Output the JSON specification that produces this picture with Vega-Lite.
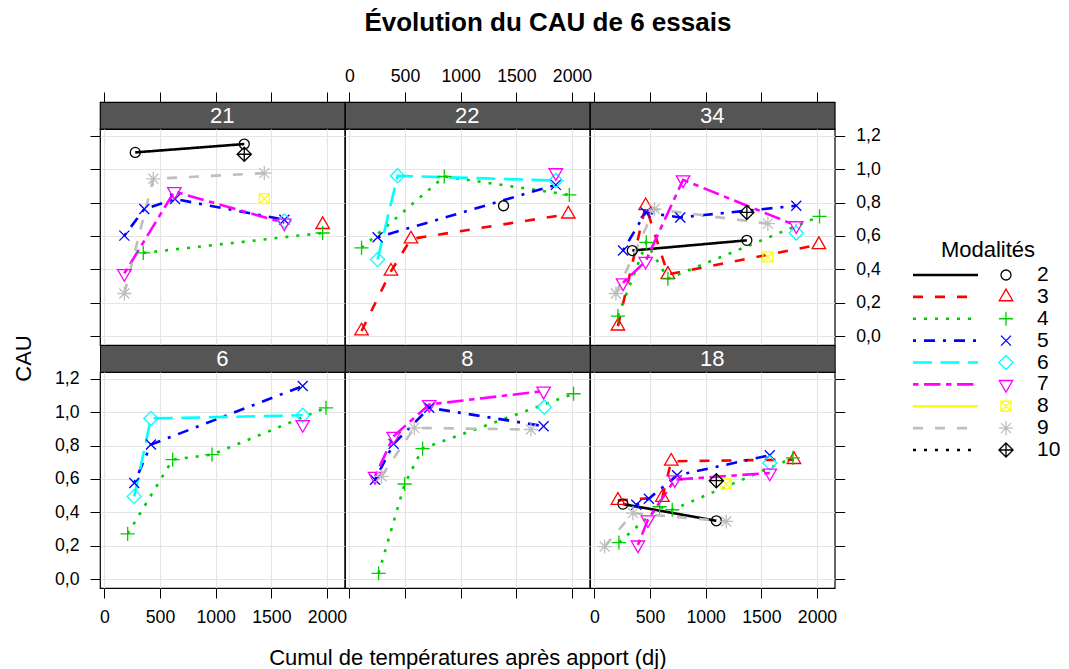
{
  "$schema": "https://vega.github.io/schema/vega-lite/v6.json",
  "autosize": {"type": "pad"},
  "padding": {"left": 11, "top": 9, "right": 5, "bottom": 5},
  "background": "white",
  "title": {"text": "Évolution du CAU de 6 essais", "fontSize": 26, "fontWeight": "bold", "font": "Liberation Sans", "color": "black", "anchor": "start", "frame": "bounds", "offset": 4.6, "dx": 353, "baseline": "bottom"},
  "config": {
    "font": "Liberation Sans",
    "view": {"stroke": "black", "strokeWidth": 1.2},
    "axis": {"grid": false, "domain": false, "tickColor": "black", "tickSize": 10, "tickWidth": 1, "labelFont": "Liberation Sans", "labelFontSize": 17.7, "labelColor": "black", "labelPadding": 11, "labelFlush": false, "labelOverlap": false, "titleFont": "Liberation Sans", "titleFontSize": 22, "titleFontWeight": "normal", "titleColor": "black", "gridColor": "#E5E5E5", "gridWidth": 1.2}
  },
  "datasets": {
    "pts": [
      {"panel": "21", "mod": "2", "x": 278, "y": 1.10},
      {"panel": "21", "mod": "2", "x": 1257, "y": 1.15},
      {"panel": "21", "mod": "3", "x": 1961, "y": 0.668},
      {"panel": "21", "mod": "4", "x": 350, "y": 0.499},
      {"panel": "21", "mod": "4", "x": 1961, "y": 0.618},
      {"panel": "21", "mod": "5", "x": 180, "y": 0.602},
      {"panel": "21", "mod": "5", "x": 359, "y": 0.761},
      {"panel": "21", "mod": "5", "x": 635, "y": 0.821},
      {"panel": "21", "mod": "5", "x": 1617, "y": 0.697},
      {"panel": "21", "mod": "6", "x": 1617, "y": 0.69},
      {"panel": "21", "mod": "7", "x": 180, "y": 0.376},
      {"panel": "21", "mod": "7", "x": 629, "y": 0.866},
      {"panel": "21", "mod": "7", "x": 1617, "y": 0.678},
      {"panel": "21", "mod": "8", "x": 1437, "y": 0.823},
      {"panel": "21", "mod": "9", "x": 180, "y": 0.256},
      {"panel": "21", "mod": "9", "x": 440, "y": 0.942},
      {"panel": "21", "mod": "9", "x": 1437, "y": 0.976},
      {"panel": "21", "mod": "10", "x": 1257, "y": 1.089},

      {"panel": "22", "mod": "2", "x": 1385, "y": 0.781},
      {"panel": "22", "mod": "3", "x": 110, "y": 0.032},
      {"panel": "22", "mod": "3", "x": 374, "y": 0.389},
      {"panel": "22", "mod": "3", "x": 554, "y": 0.582},
      {"panel": "22", "mod": "3", "x": 1967, "y": 0.731},
      {"panel": "22", "mod": "4", "x": 110, "y": 0.529},
      {"panel": "22", "mod": "4", "x": 853, "y": 0.956},
      {"panel": "22", "mod": "4", "x": 1976, "y": 0.846},
      {"panel": "22", "mod": "5", "x": 254, "y": 0.592},
      {"panel": "22", "mod": "5", "x": 1855, "y": 0.906},
      {"panel": "22", "mod": "6", "x": 254, "y": 0.459},
      {"panel": "22", "mod": "6", "x": 434, "y": 0.960},
      {"panel": "22", "mod": "6", "x": 1855, "y": 0.932},
      {"panel": "22", "mod": "7", "x": 1855, "y": 0.979},

      {"panel": "34", "mod": "2", "x": 341, "y": 0.513},
      {"panel": "34", "mod": "2", "x": 1370, "y": 0.574},
      {"panel": "34", "mod": "3", "x": 212, "y": 0.061},
      {"panel": "34", "mod": "3", "x": 461, "y": 0.781},
      {"panel": "34", "mod": "3", "x": 661, "y": 0.370},
      {"panel": "34", "mod": "3", "x": 2017, "y": 0.548},
      {"panel": "34", "mod": "4", "x": 212, "y": 0.121},
      {"panel": "34", "mod": "4", "x": 467, "y": 0.562},
      {"panel": "34", "mod": "4", "x": 661, "y": 0.344},
      {"panel": "34", "mod": "4", "x": 2023, "y": 0.717},
      {"panel": "34", "mod": "5", "x": 258, "y": 0.513},
      {"panel": "34", "mod": "5", "x": 461, "y": 0.741},
      {"panel": "34", "mod": "5", "x": 772, "y": 0.711},
      {"panel": "34", "mod": "5", "x": 1814, "y": 0.781},
      {"panel": "34", "mod": "6", "x": 1814, "y": 0.618},
      {"panel": "34", "mod": "7", "x": 258, "y": 0.320},
      {"panel": "34", "mod": "7", "x": 461, "y": 0.449},
      {"panel": "34", "mod": "7", "x": 797, "y": 0.936},
      {"panel": "34", "mod": "7", "x": 1814, "y": 0.662},
      {"panel": "34", "mod": "8", "x": 1559, "y": 0.475},
      {"panel": "34", "mod": "9", "x": 194, "y": 0.256},
      {"panel": "34", "mod": "9", "x": 541, "y": 0.761},
      {"panel": "34", "mod": "9", "x": 1559, "y": 0.674},
      {"panel": "34", "mod": "10", "x": 1370, "y": 0.741},

      {"panel": "6", "mod": "4", "x": 210, "y": 0.272},
      {"panel": "6", "mod": "4", "x": 614, "y": 0.716},
      {"panel": "6", "mod": "4", "x": 967, "y": 0.746},
      {"panel": "6", "mod": "4", "x": 1991, "y": 1.026},
      {"panel": "6", "mod": "5", "x": 269, "y": 0.576},
      {"panel": "6", "mod": "5", "x": 419, "y": 0.806},
      {"panel": "6", "mod": "5", "x": 1782, "y": 1.156},
      {"panel": "6", "mod": "6", "x": 269, "y": 0.496},
      {"panel": "6", "mod": "6", "x": 419, "y": 0.962},
      {"panel": "6", "mod": "6", "x": 1782, "y": 0.981},
      {"panel": "6", "mod": "7", "x": 1782, "y": 0.926},

      {"panel": "8", "mod": "4", "x": 263, "y": 0.036},
      {"panel": "8", "mod": "4", "x": 497, "y": 0.570},
      {"panel": "8", "mod": "4", "x": 658, "y": 0.782},
      {"panel": "8", "mod": "4", "x": 2014, "y": 1.110},
      {"panel": "8", "mod": "5", "x": 231, "y": 0.596},
      {"panel": "8", "mod": "5", "x": 398, "y": 0.810},
      {"panel": "8", "mod": "5", "x": 718, "y": 1.026},
      {"panel": "8", "mod": "5", "x": 1745, "y": 0.916},
      {"panel": "8", "mod": "6", "x": 1751, "y": 1.030},
      {"panel": "8", "mod": "7", "x": 231, "y": 0.616},
      {"panel": "8", "mod": "7", "x": 398, "y": 0.856},
      {"panel": "8", "mod": "7", "x": 718, "y": 1.046},
      {"panel": "8", "mod": "7", "x": 1745, "y": 1.126},
      {"panel": "8", "mod": "9", "x": 289, "y": 0.616},
      {"panel": "8", "mod": "9", "x": 584, "y": 0.906},
      {"panel": "8", "mod": "9", "x": 1631, "y": 0.896},

      {"panel": "18", "mod": "2", "x": 257, "y": 0.450},
      {"panel": "18", "mod": "2", "x": 1096, "y": 0.350},
      {"panel": "18", "mod": "3", "x": 212, "y": 0.472},
      {"panel": "18", "mod": "3", "x": 611, "y": 0.490},
      {"panel": "18", "mod": "3", "x": 691, "y": 0.706},
      {"panel": "18", "mod": "3", "x": 1793, "y": 0.716},
      {"panel": "18", "mod": "4", "x": 221, "y": 0.220},
      {"panel": "18", "mod": "4", "x": 587, "y": 0.434},
      {"panel": "18", "mod": "4", "x": 700, "y": 0.416},
      {"panel": "18", "mod": "4", "x": 1784, "y": 0.726},
      {"panel": "18", "mod": "5", "x": 377, "y": 0.446},
      {"panel": "18", "mod": "5", "x": 490, "y": 0.482},
      {"panel": "18", "mod": "5", "x": 744, "y": 0.622},
      {"panel": "18", "mod": "5", "x": 1576, "y": 0.742},
      {"panel": "18", "mod": "6", "x": 1576, "y": 0.696},
      {"panel": "18", "mod": "7", "x": 392, "y": 0.206},
      {"panel": "18", "mod": "7", "x": 481, "y": 0.356},
      {"panel": "18", "mod": "7", "x": 723, "y": 0.596},
      {"panel": "18", "mod": "7", "x": 1576, "y": 0.636},
      {"panel": "18", "mod": "8", "x": 1185, "y": 0.570},
      {"panel": "18", "mod": "9", "x": 93, "y": 0.196},
      {"panel": "18", "mod": "9", "x": 347, "y": 0.396},
      {"panel": "18", "mod": "9", "x": 1185, "y": 0.346},
      {"panel": "18", "mod": "10", "x": 1096, "y": 0.590}
    ],
    "leg": [
      {"mod": "2", "n": 2}, {"mod": "3", "n": 3}, {"mod": "4", "n": 4}, {"mod": "5", "n": 5}, {"mod": "6", "n": 6}, {"mod": "7", "n": 7}, {"mod": "8", "n": 8}, {"mod": "9", "n": 9}, {"mod": "10", "n": 10}
    ]
  },
  "spacing": 30,
  "hconcat": [
    {
      "columns": 3,
      "spacing": 0,
      "bounds": "flush",
      "concat": [
        {
          "width": 244.7, "height": 27, "view": {"fill": "#555555", "stroke": "black"},
          "layer": [
            {"data": {"name": "pts"}, "transform": [{"filter": "datum.panel === '21'"}], "mark": {"type": "point", "opacity": 0}, "encoding": {"x": {"field": "x", "type": "quantitative", "scale": {"domain": [-38.6, 2159], "nice": false, "zero": false}, "axis": {"orient": "top", "values": [0, 500, 1000, 1500, 2000], "labels": false, "title": null}}}},
            {"data": {"values": [{"p": "21"}]}, "mark": {"type": "text", "color": "white", "fontSize": 22, "baseline": "middle", "align": "center"}, "encoding": {"text": {"field": "p"}}}
          ]
        },
        {
          "width": 244.7, "height": 27, "view": {"fill": "#555555", "stroke": "black"},
          "layer": [
            {"data": {"name": "pts"}, "transform": [{"filter": "datum.panel === '22'"}], "mark": {"type": "point", "opacity": 0}, "encoding": {"x": {"field": "x", "type": "quantitative", "scale": {"domain": [-38.6, 2159], "nice": false, "zero": false}, "axis": {"orient": "top", "values": [0, 500, 1000, 1500, 2000], "format": "d", "labelPadding": 7, "title": null}}}},
            {"data": {"values": [{"p": "22"}]}, "mark": {"type": "text", "color": "white", "fontSize": 22, "baseline": "middle", "align": "center"}, "encoding": {"text": {"field": "p"}}}
          ]
        },
        {
          "width": 244.7, "height": 27, "view": {"fill": "#555555", "stroke": "black"},
          "layer": [
            {"data": {"name": "pts"}, "transform": [{"filter": "datum.panel === '34'"}], "mark": {"type": "point", "opacity": 0}, "encoding": {"x": {"field": "x", "type": "quantitative", "scale": {"domain": [-38.6, 2159], "nice": false, "zero": false}, "axis": {"orient": "top", "values": [0, 500, 1000, 1500, 2000], "labels": false, "title": null}}}},
            {"data": {"values": [{"p": "34"}]}, "mark": {"type": "text", "color": "white", "fontSize": 22, "baseline": "middle", "align": "center"}, "encoding": {"text": {"field": "p"}}}
          ]
        },
        {
          "width": 244.7, "height": 216,
          "data": {"name": "pts"},
          "transform": [{"filter": "datum.panel === '21'"}],
          "resolve": {"axis": {"x": "independent", "y": "independent"}},
          "layer": [
            {"mark": {"type": "line", "strokeWidth": 2.6},
             "encoding": {
               "x": {"field": "x", "type": "quantitative", "scale": {"domain": [-38.6, 2159], "nice": false, "zero": false}, "axis": {"orient": "bottom", "values": [0, 500, 1000, 1500, 2000], "grid": true, "ticks": false, "labels": false, "title": null}},
               "y": {"field": "y", "type": "quantitative", "scale": {"domain": [-0.052, 1.24], "nice": false, "zero": false}, "axis": {"orient": "left", "values": [0, 0.2, 0.4, 0.6, 0.8, 1, 1.2], "grid": true, "ticks": false, "labels": false, "title": null}},
               "color": {"field": "mod", "type": "nominal", "scale": {"domain": ["2","3","4","5","6","7","8","9","10"], "range": ["#000000","#FF0000","#00CD00","#0000FF","#00FFFF","#FF00FF","#FFFF00","#BEBEBE","#000000"]}, "legend": null},
               "strokeDash": {"field": "mod", "type": "nominal", "scale": {"domain": ["2","3","4","5","6","7","8","9","10"], "range": [[1,0],[10,12],[3,8],[3,8,11,8],[19,8.5],[5.5,5.5,16.5,5.5],[1,0],[10,12],[3,8]]}, "legend": null}
             }},
            {"mark": {"type": "point", "filled": false, "size": 100, "strokeWidth": 1.3, "opacity": 1},
             "encoding": {
               "x": {"field": "x", "type": "quantitative", "scale": {"domain": [-38.6, 2159], "nice": false, "zero": false}, "axis": null},
               "y": {"field": "y", "type": "quantitative", "scale": {"domain": [-0.052, 1.24], "nice": false, "zero": false}, "axis": {"orient": "left", "values": [0, 0.2, 0.4, 0.6, 0.8, 1, 1.2], "labels": false, "title": null}},
               "color": {"field": "mod", "type": "nominal", "scale": {"domain": ["2","3","4","5","6","7","8","9","10"], "range": ["#000000","#FF0000","#00CD00","#0000FF","#00FFFF","#FF00FF","#FFFF00","#BEBEBE","#000000"]}, "legend": null},
               "shape": {"field": "mod", "type": "nominal", "scale": {"domain": ["2","3","4","5","6","7","8","9","10"], "range": ["circle","M0,-1.555L1.347,0.778L-1.347,0.778Z","M-1.414,0L1.414,0M0,-1.414L0,1.414","M-1,-1L1,1M-1,1L1,-1","M0,-1.414L1.414,0L0,1.414L-1.414,0Z","M0,1.555L1.347,-0.778L-1.347,-0.778Z","M-1,-1L1,-1L1,1L-1,1ZM-1,-1L1,1M-1,1L1,-1","M-1.414,0L1.414,0M0,-1.414L0,1.414M-1,-1L1,1M-1,1L1,-1","M0,-1.414L1.414,0L0,1.414L-1.414,0ZM-1.414,0L1.414,0M0,-1.414L0,1.414"]}, "legend": null}
             }}
          ]
        },
        {
          "width": 244.7, "height": 216,
          "data": {"name": "pts"},
          "transform": [{"filter": "datum.panel === '22'"}],
          "resolve": {"axis": {"x": "independent", "y": "independent"}},
          "layer": [
            {"mark": {"type": "line", "strokeWidth": 2.6},
             "encoding": {
               "x": {"field": "x", "type": "quantitative", "scale": {"domain": [-38.6, 2159], "nice": false, "zero": false}, "axis": {"orient": "bottom", "values": [0, 500, 1000, 1500, 2000], "grid": true, "ticks": false, "labels": false, "title": null}},
               "y": {"field": "y", "type": "quantitative", "scale": {"domain": [-0.052, 1.24], "nice": false, "zero": false}, "axis": {"orient": "left", "values": [0, 0.2, 0.4, 0.6, 0.8, 1, 1.2], "grid": true, "ticks": false, "labels": false, "title": null}},
               "color": {"field": "mod", "type": "nominal", "scale": {"domain": ["2","3","4","5","6","7","8","9","10"], "range": ["#000000","#FF0000","#00CD00","#0000FF","#00FFFF","#FF00FF","#FFFF00","#BEBEBE","#000000"]}, "legend": null},
               "strokeDash": {"field": "mod", "type": "nominal", "scale": {"domain": ["2","3","4","5","6","7","8","9","10"], "range": [[1,0],[10,12],[3,8],[3,8,11,8],[19,8.5],[5.5,5.5,16.5,5.5],[1,0],[10,12],[3,8]]}, "legend": null}
             }},
            {"mark": {"type": "point", "filled": false, "size": 100, "strokeWidth": 1.3, "opacity": 1},
             "encoding": {
               "x": {"field": "x", "type": "quantitative", "scale": {"domain": [-38.6, 2159], "nice": false, "zero": false}, "axis": null},
               "y": {"field": "y", "type": "quantitative", "scale": {"domain": [-0.052, 1.24], "nice": false, "zero": false}, "axis": null},
               "color": {"field": "mod", "type": "nominal", "scale": {"domain": ["2","3","4","5","6","7","8","9","10"], "range": ["#000000","#FF0000","#00CD00","#0000FF","#00FFFF","#FF00FF","#FFFF00","#BEBEBE","#000000"]}, "legend": null},
               "shape": {"field": "mod", "type": "nominal", "scale": {"domain": ["2","3","4","5","6","7","8","9","10"], "range": ["circle","M0,-1.555L1.347,0.778L-1.347,0.778Z","M-1.414,0L1.414,0M0,-1.414L0,1.414","M-1,-1L1,1M-1,1L1,-1","M0,-1.414L1.414,0L0,1.414L-1.414,0Z","M0,1.555L1.347,-0.778L-1.347,-0.778Z","M-1,-1L1,-1L1,1L-1,1ZM-1,-1L1,1M-1,1L1,-1","M-1.414,0L1.414,0M0,-1.414L0,1.414M-1,-1L1,1M-1,1L1,-1","M0,-1.414L1.414,0L0,1.414L-1.414,0ZM-1.414,0L1.414,0M0,-1.414L0,1.414"]}, "legend": null}
             }}
          ]
        },
        {
          "width": 244.7, "height": 216,
          "data": {"name": "pts"},
          "transform": [{"filter": "datum.panel === '34'"}],
          "resolve": {"axis": {"x": "independent", "y": "independent"}},
          "layer": [
            {"mark": {"type": "line", "strokeWidth": 2.6},
             "encoding": {
               "x": {"field": "x", "type": "quantitative", "scale": {"domain": [-38.6, 2159], "nice": false, "zero": false}, "axis": {"orient": "bottom", "values": [0, 500, 1000, 1500, 2000], "grid": true, "ticks": false, "labels": false, "title": null}},
               "y": {"field": "y", "type": "quantitative", "scale": {"domain": [-0.052, 1.24], "nice": false, "zero": false}, "axis": {"orient": "left", "values": [0, 0.2, 0.4, 0.6, 0.8, 1, 1.2], "grid": true, "ticks": false, "labels": false, "title": null}},
               "color": {"field": "mod", "type": "nominal", "scale": {"domain": ["2","3","4","5","6","7","8","9","10"], "range": ["#000000","#FF0000","#00CD00","#0000FF","#00FFFF","#FF00FF","#FFFF00","#BEBEBE","#000000"]}, "legend": null},
               "strokeDash": {"field": "mod", "type": "nominal", "scale": {"domain": ["2","3","4","5","6","7","8","9","10"], "range": [[1,0],[10,12],[3,8],[3,8,11,8],[19,8.5],[5.5,5.5,16.5,5.5],[1,0],[10,12],[3,8]]}, "legend": null}
             }},
            {"mark": {"type": "point", "filled": false, "size": 100, "strokeWidth": 1.3, "opacity": 1},
             "encoding": {
               "x": {"field": "x", "type": "quantitative", "scale": {"domain": [-38.6, 2159], "nice": false, "zero": false}, "axis": null},
               "y": {"field": "y", "type": "quantitative", "scale": {"domain": [-0.052, 1.24], "nice": false, "zero": false}, "axis": {"orient": "right", "values": [0, 0.2, 0.4, 0.6, 0.8, 1, 1.2], "labelExpr": "replace(format(datum.value, '.1f'), '.', ',')", "title": null}},
               "color": {"field": "mod", "type": "nominal", "scale": {"domain": ["2","3","4","5","6","7","8","9","10"], "range": ["#000000","#FF0000","#00CD00","#0000FF","#00FFFF","#FF00FF","#FFFF00","#BEBEBE","#000000"]}, "legend": null},
               "shape": {"field": "mod", "type": "nominal", "scale": {"domain": ["2","3","4","5","6","7","8","9","10"], "range": ["circle","M0,-1.555L1.347,0.778L-1.347,0.778Z","M-1.414,0L1.414,0M0,-1.414L0,1.414","M-1,-1L1,1M-1,1L1,-1","M0,-1.414L1.414,0L0,1.414L-1.414,0Z","M0,1.555L1.347,-0.778L-1.347,-0.778Z","M-1,-1L1,-1L1,1L-1,1ZM-1,-1L1,1M-1,1L1,-1","M-1.414,0L1.414,0M0,-1.414L0,1.414M-1,-1L1,1M-1,1L1,-1","M0,-1.414L1.414,0L0,1.414L-1.414,0ZM-1.414,0L1.414,0M0,-1.414L0,1.414"]}, "legend": null}
             }}
          ]
        },
        {"width": 244.7, "height": 27, "view": {"fill": "#555555", "stroke": "black"}, "data": {"values": [{"p": "6"}]}, "mark": {"type": "text", "color": "white", "fontSize": 22, "baseline": "middle", "align": "center"}, "encoding": {"text": {"field": "p"}}},
        {"width": 244.7, "height": 27, "view": {"fill": "#555555", "stroke": "black"}, "data": {"values": [{"p": "8"}]}, "mark": {"type": "text", "color": "white", "fontSize": 22, "baseline": "middle", "align": "center"}, "encoding": {"text": {"field": "p"}}},
        {"width": 244.7, "height": 27, "view": {"fill": "#555555", "stroke": "black"}, "data": {"values": [{"p": "18"}]}, "mark": {"type": "text", "color": "white", "fontSize": 22, "baseline": "middle", "align": "center"}, "encoding": {"text": {"field": "p"}}},
        {
          "width": 244.7, "height": 216,
          "data": {"name": "pts"},
          "transform": [{"filter": "datum.panel === '6'"}],
          "resolve": {"axis": {"x": "independent", "y": "independent"}},
          "layer": [
            {"mark": {"type": "line", "strokeWidth": 2.6},
             "encoding": {
               "x": {"field": "x", "type": "quantitative", "scale": {"domain": [-38.6, 2159], "nice": false, "zero": false}, "axis": {"orient": "top", "values": [0, 500, 1000, 1500, 2000], "grid": true, "ticks": false, "labels": false, "title": null}},
               "y": {"field": "y", "type": "quantitative", "scale": {"domain": [-0.052, 1.24], "nice": false, "zero": false}, "axis": {"orient": "right", "values": [0, 0.2, 0.4, 0.6, 0.8, 1, 1.2], "grid": true, "ticks": false, "labels": false, "title": null}},
               "color": {"field": "mod", "type": "nominal", "scale": {"domain": ["2","3","4","5","6","7","8","9","10"], "range": ["#000000","#FF0000","#00CD00","#0000FF","#00FFFF","#FF00FF","#FFFF00","#BEBEBE","#000000"]}, "legend": null},
               "strokeDash": {"field": "mod", "type": "nominal", "scale": {"domain": ["2","3","4","5","6","7","8","9","10"], "range": [[1,0],[10,12],[3,8],[3,8,11,8],[19,8.5],[5.5,5.5,16.5,5.5],[1,0],[10,12],[3,8]]}, "legend": null}
             }},
            {"mark": {"type": "point", "filled": false, "size": 100, "strokeWidth": 1.3, "opacity": 1},
             "encoding": {
               "x": {"field": "x", "type": "quantitative", "scale": {"domain": [-38.6, 2159], "nice": false, "zero": false}, "axis": {"orient": "bottom", "values": [0, 500, 1000, 1500, 2000], "format": "d", "labelPadding": 10, "title": null}},
               "y": {"field": "y", "type": "quantitative", "scale": {"domain": [-0.052, 1.24], "nice": false, "zero": false}, "axis": {"orient": "left", "values": [0, 0.2, 0.4, 0.6, 0.8, 1, 1.2], "labelExpr": "replace(format(datum.value, '.1f'), '.', ',')", "title": "CAU", "titleX": -77, "titleY": -14, "titleBaseline": "middle", "titleAlign": "center", "titleAngle": 270}},
               "color": {"field": "mod", "type": "nominal", "scale": {"domain": ["2","3","4","5","6","7","8","9","10"], "range": ["#000000","#FF0000","#00CD00","#0000FF","#00FFFF","#FF00FF","#FFFF00","#BEBEBE","#000000"]}, "legend": null},
               "shape": {"field": "mod", "type": "nominal", "scale": {"domain": ["2","3","4","5","6","7","8","9","10"], "range": ["circle","M0,-1.555L1.347,0.778L-1.347,0.778Z","M-1.414,0L1.414,0M0,-1.414L0,1.414","M-1,-1L1,1M-1,1L1,-1","M0,-1.414L1.414,0L0,1.414L-1.414,0Z","M0,1.555L1.347,-0.778L-1.347,-0.778Z","M-1,-1L1,-1L1,1L-1,1ZM-1,-1L1,1M-1,1L1,-1","M-1.414,0L1.414,0M0,-1.414L0,1.414M-1,-1L1,1M-1,1L1,-1","M0,-1.414L1.414,0L0,1.414L-1.414,0ZM-1.414,0L1.414,0M0,-1.414L0,1.414"]}, "legend": null}
             }}
          ]
        },
        {
          "width": 244.7, "height": 216,
          "data": {"name": "pts"},
          "transform": [{"filter": "datum.panel === '8'"}],
          "resolve": {"axis": {"x": "independent", "y": "independent"}},
          "layer": [
            {"mark": {"type": "line", "strokeWidth": 2.6},
             "encoding": {
               "x": {"field": "x", "type": "quantitative", "scale": {"domain": [-38.6, 2159], "nice": false, "zero": false}, "axis": {"orient": "top", "values": [0, 500, 1000, 1500, 2000], "grid": true, "ticks": false, "labels": false, "title": null}},
               "y": {"field": "y", "type": "quantitative", "scale": {"domain": [-0.052, 1.24], "nice": false, "zero": false}, "axis": {"orient": "left", "values": [0, 0.2, 0.4, 0.6, 0.8, 1, 1.2], "grid": true, "ticks": false, "labels": false, "title": null}},
               "color": {"field": "mod", "type": "nominal", "scale": {"domain": ["2","3","4","5","6","7","8","9","10"], "range": ["#000000","#FF0000","#00CD00","#0000FF","#00FFFF","#FF00FF","#FFFF00","#BEBEBE","#000000"]}, "legend": null},
               "strokeDash": {"field": "mod", "type": "nominal", "scale": {"domain": ["2","3","4","5","6","7","8","9","10"], "range": [[1,0],[10,12],[3,8],[3,8,11,8],[19,8.5],[5.5,5.5,16.5,5.5],[1,0],[10,12],[3,8]]}, "legend": null}
             }},
            {"mark": {"type": "point", "filled": false, "size": 100, "strokeWidth": 1.3, "opacity": 1},
             "encoding": {
               "x": {"field": "x", "type": "quantitative", "scale": {"domain": [-38.6, 2159], "nice": false, "zero": false}, "axis": {"orient": "bottom", "values": [0, 500, 1000, 1500, 2000], "labels": false, "title": "Cumul de températures après apport (dj)", "titleX": 122.35, "titleY": 69, "titleBaseline": "middle", "titleAlign": "center"}},
               "y": {"field": "y", "type": "quantitative", "scale": {"domain": [-0.052, 1.24], "nice": false, "zero": false}, "axis": null},
               "color": {"field": "mod", "type": "nominal", "scale": {"domain": ["2","3","4","5","6","7","8","9","10"], "range": ["#000000","#FF0000","#00CD00","#0000FF","#00FFFF","#FF00FF","#FFFF00","#BEBEBE","#000000"]}, "legend": null},
               "shape": {"field": "mod", "type": "nominal", "scale": {"domain": ["2","3","4","5","6","7","8","9","10"], "range": ["circle","M0,-1.555L1.347,0.778L-1.347,0.778Z","M-1.414,0L1.414,0M0,-1.414L0,1.414","M-1,-1L1,1M-1,1L1,-1","M0,-1.414L1.414,0L0,1.414L-1.414,0Z","M0,1.555L1.347,-0.778L-1.347,-0.778Z","M-1,-1L1,-1L1,1L-1,1ZM-1,-1L1,1M-1,1L1,-1","M-1.414,0L1.414,0M0,-1.414L0,1.414M-1,-1L1,1M-1,1L1,-1","M0,-1.414L1.414,0L0,1.414L-1.414,0ZM-1.414,0L1.414,0M0,-1.414L0,1.414"]}, "legend": null}
             }}
          ]
        },
        {
          "width": 244.7, "height": 216,
          "data": {"name": "pts"},
          "transform": [{"filter": "datum.panel === '18'"}],
          "resolve": {"axis": {"x": "independent", "y": "independent"}},
          "layer": [
            {"mark": {"type": "line", "strokeWidth": 2.6},
             "encoding": {
               "x": {"field": "x", "type": "quantitative", "scale": {"domain": [-38.6, 2159], "nice": false, "zero": false}, "axis": {"orient": "top", "values": [0, 500, 1000, 1500, 2000], "grid": true, "ticks": false, "labels": false, "title": null}},
               "y": {"field": "y", "type": "quantitative", "scale": {"domain": [-0.052, 1.24], "nice": false, "zero": false}, "axis": {"orient": "left", "values": [0, 0.2, 0.4, 0.6, 0.8, 1, 1.2], "grid": true, "ticks": false, "labels": false, "title": null}},
               "color": {"field": "mod", "type": "nominal", "scale": {"domain": ["2","3","4","5","6","7","8","9","10"], "range": ["#000000","#FF0000","#00CD00","#0000FF","#00FFFF","#FF00FF","#FFFF00","#BEBEBE","#000000"]}, "legend": null},
               "strokeDash": {"field": "mod", "type": "nominal", "scale": {"domain": ["2","3","4","5","6","7","8","9","10"], "range": [[1,0],[10,12],[3,8],[3,8,11,8],[19,8.5],[5.5,5.5,16.5,5.5],[1,0],[10,12],[3,8]]}, "legend": null}
             }},
            {"mark": {"type": "point", "filled": false, "size": 100, "strokeWidth": 1.3, "opacity": 1},
             "encoding": {
               "x": {"field": "x", "type": "quantitative", "scale": {"domain": [-38.6, 2159], "nice": false, "zero": false}, "axis": {"orient": "bottom", "values": [0, 500, 1000, 1500, 2000], "format": "d", "labelPadding": 10, "title": null}},
               "y": {"field": "y", "type": "quantitative", "scale": {"domain": [-0.052, 1.24], "nice": false, "zero": false}, "axis": {"orient": "right", "values": [0, 0.2, 0.4, 0.6, 0.8, 1, 1.2], "labels": false, "title": null}},
               "color": {"field": "mod", "type": "nominal", "scale": {"domain": ["2","3","4","5","6","7","8","9","10"], "range": ["#000000","#FF0000","#00CD00","#0000FF","#00FFFF","#FF00FF","#FFFF00","#BEBEBE","#000000"]}, "legend": null},
               "shape": {"field": "mod", "type": "nominal", "scale": {"domain": ["2","3","4","5","6","7","8","9","10"], "range": ["circle","M0,-1.555L1.347,0.778L-1.347,0.778Z","M-1.414,0L1.414,0M0,-1.414L0,1.414","M-1,-1L1,1M-1,1L1,-1","M0,-1.414L1.414,0L0,1.414L-1.414,0Z","M0,1.555L1.347,-0.778L-1.347,-0.778Z","M-1,-1L1,-1L1,1L-1,1ZM-1,-1L1,1M-1,1L1,-1","M-1.414,0L1.414,0M0,-1.414L0,1.414M-1,-1L1,1M-1,1L1,-1","M0,-1.414L1.414,0L0,1.414L-1.414,0ZM-1.414,0L1.414,0M0,-1.414L0,1.414"]}, "legend": null}
             }}
          ]
        }
      ]
    },
    {
      "width": 150, "height": 420,
      "view": {"stroke": null},
      "title": {"text": "Modalités", "fontSize": 22, "fontWeight": "normal", "font": "Liberation Sans", "color": "black", "anchor": "middle", "offset": -170.4, "baseline": "middle"},
      "data": {"name": "leg"},
      "encoding": {
        "y": {"field": "n", "type": "quantitative", "scale": {"domain": [-5.909, 13.291], "reverse": true, "nice": false, "zero": false}, "axis": null},
        "color": {"field": "mod", "type": "nominal", "scale": {"domain": ["2","3","4","5","6","7","8","9","10"], "range": ["#000000","#FF0000","#00CD00","#0000FF","#00FFFF","#FF00FF","#FFFF00","#BEBEBE","#000000"]}, "legend": null}
      },
      "layer": [
        {"mark": {"type": "rule", "strokeWidth": 2.6},
         "encoding": {
           "x": {"datum": 0, "type": "quantitative", "scale": {"domain": [0, 150], "nice": false, "zero": false}, "axis": null},
           "x2": {"datum": 65},
           "strokeDash": {"field": "mod", "type": "nominal", "scale": {"domain": ["2","3","4","5","6","7","8","9","10"], "range": [[1,0],[10,12],[3,8],[3,8,11,8],[19,8.5],[5.5,5.5,16.5,5.5],[1,0],[10,12],[3,8]]}, "legend": null}
         }},
        {"mark": {"type": "point", "filled": false, "size": 100, "strokeWidth": 1.3, "opacity": 1},
         "encoding": {
           "x": {"datum": 93, "type": "quantitative"},
           "shape": {"field": "mod", "type": "nominal", "scale": {"domain": ["2","3","4","5","6","7","8","9","10"], "range": ["circle","M0,-1.555L1.347,0.778L-1.347,0.778Z","M-1.414,0L1.414,0M0,-1.414L0,1.414","M-1,-1L1,1M-1,1L1,-1","M0,-1.414L1.414,0L0,1.414L-1.414,0Z","M0,1.555L1.347,-0.778L-1.347,-0.778Z","M-1,-1L1,-1L1,1L-1,1ZM-1,-1L1,1M-1,1L1,-1","M-1.414,0L1.414,0M0,-1.414L0,1.414M-1,-1L1,1M-1,1L1,-1","M0,-1.414L1.414,0L0,1.414L-1.414,0ZM-1.414,0L1.414,0M0,-1.414L0,1.414"]}, "legend": null}
         }},
        {"mark": {"type": "text", "align": "left", "baseline": "middle", "fontSize": 21, "font": "Liberation Sans"},
         "encoding": {
           "x": {"datum": 124, "type": "quantitative"},
           "text": {"field": "mod"},
           "color": {"value": "black"}
         }}
      ]
    }
  ]
}
